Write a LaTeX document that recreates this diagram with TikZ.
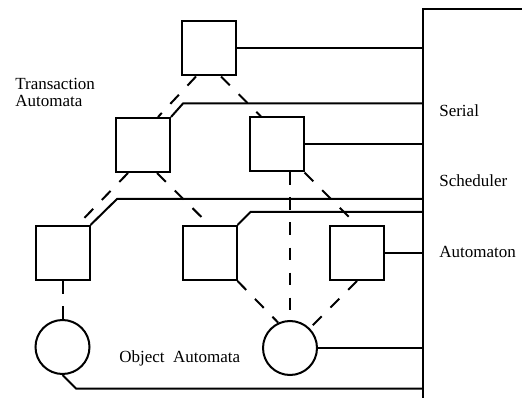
\documentclass[tikz,border=0pt]{standalone}
\usepackage{fontspec}
\setmainfont{Liberation Serif}
\usetikzlibrary{calc,positioning}

\begin{document}
\begin{tikzpicture}[x=1pt,y=-1pt,line width=2pt,
  every node/.style={font=\fontsize{17}{17}\selectfont},
  trans/.style={draw,rectangle,minimum size=54pt,inner sep=0pt},
  obj/.style={draw,circle,minimum size=54pt,inner sep=0pt},
  dl/.style={dash pattern=on 12.5pt off 12.5pt}]
\useasboundingbox (0,0) rectangle (522,398);
% scheduler box, open to the right
\coordinate (sched) at (522,9);
\coordinate (bus) at (423,9);
\coordinate (busend) at (423,398);
\draw (sched) -- (bus) -- (busend);
% transaction automata
\node[trans] (t0) at (209,48.5) {};
\node[trans] (t1) at (143,145) {};
\node[trans] (t2) at (276.5,144.5) {};
\node[trans] (b1) at (62.5,253) {};
\node[trans] (b2) at (209.5,253) {};
\node[trans] (b3) at (357,253) {};
% object automata
\node[obj] (o1) at (62.5,347) {};
\node[obj] (o2) at (290,348) {};
% links to the scheduler
\draw (t0) -- (t0 -| bus);
\draw (t2) -- (t2 -| bus);
\draw (b3) -- (b3 -| bus);
\draw (o2) -- (o2 -| bus);
\draw (t1.north east) -- ++(12,-13.5) coordinate (s1) -- (s1 -| bus);
\draw (b1.north east) -- ++(26.5,-26) coordinate (s2) -- (s2 -| bus);
\draw (b2.north east) -- ++(13,-13) coordinate (s3) -- (s3 -| bus);
\draw (o1.south) -- ++(13.5,13.5) coordinate (s4) -- (s4 -| bus);
% parent/child links
\draw[dl] ($(t0.south west)+(15,0)$) -- ($(t1.north east)+(-13,0)$);
\draw[dl] ($(t0.south east)+(-16,0)$) -- ($(t2.north west)+(12.5,0)$);
\draw[dl] ($(t1.south west)+(13,0)$) -- ($(b1.north east)+(-13,0)$);
\draw[dl] ($(t1.south east)+(-14,0)$) -- (b2.north);
\draw[dl] (t2.south east) -- (b3.north);
\draw[dl] (t2.south -| o2) -- (o2);
\draw[dl] (b1) -- (o1);
\draw[dl] (b2.south east) -- (o2.115);
\draw[dl] (b3.south) -- (o2.45);
% labels
\node[anchor=base west,align=left] (lta) at (11,107) {Transaction\\Automata};
\node[anchor=base west] (lser) at (435,117) {Serial};
\node[anchor=base west] (lsch) at (435,187) {Scheduler};
\node[anchor=base west] (laut) at (435,258) {Automaton};
\node[anchor=base west] (lobj) at (115,362) {Object\hspace{0.5em}Automata};
\end{tikzpicture}
\end{document}
